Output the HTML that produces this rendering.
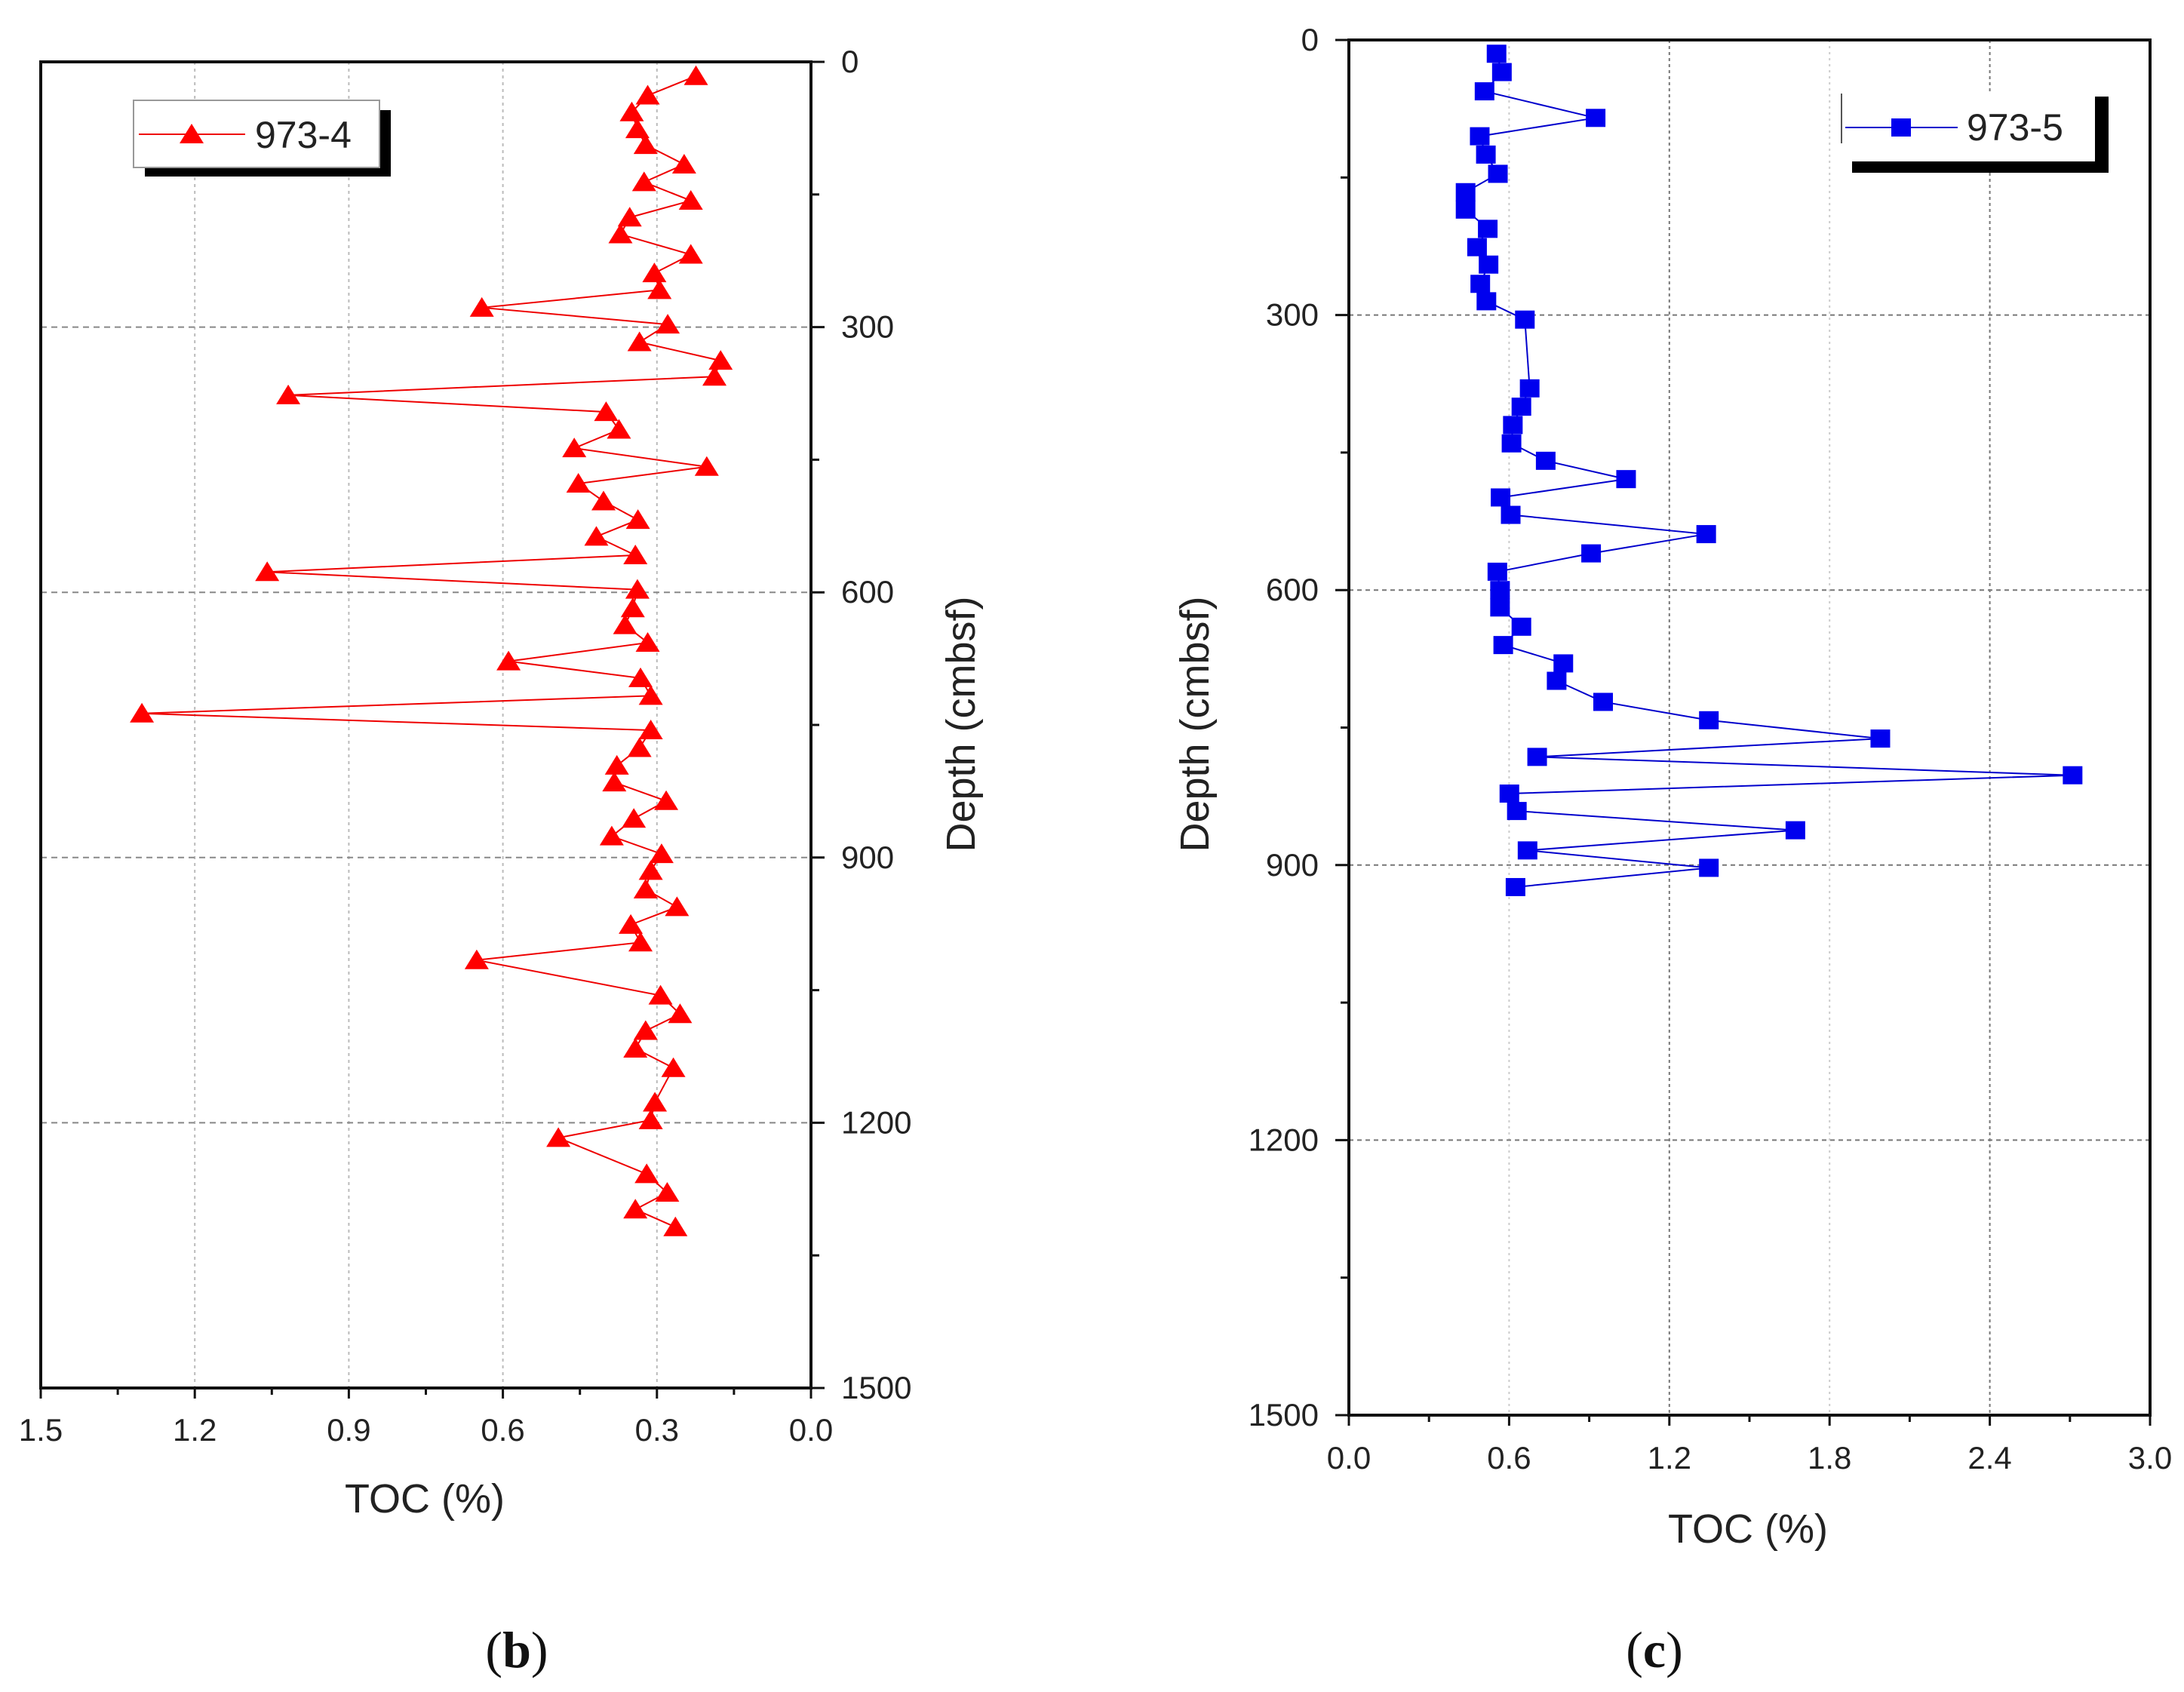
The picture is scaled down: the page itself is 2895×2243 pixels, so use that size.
<!DOCTYPE html>
<html><head><meta charset="utf-8"><style>
html,body{margin:0;padding:0;background:#fff;}
svg{display:block;}
text{font-family:"Liberation Sans",sans-serif;fill:#222;}
text.cap{font-family:"Liberation Serif",serif;fill:#111;}
</style></head><body>
<svg id="fig" width="2895" height="2243" viewBox="0 0 2895 2243" xmlns="http://www.w3.org/2000/svg"></svg>
<script>
// Panel b: 973-4
const depthB = [16,38,57,76,94,116,136,157,176,195,218,239,258,278,297,317,338,356,377,396,416,437,458,477,497,518,537,558,577,597,618,637,657,678,697,717,737,756,776,796,815,836,856,876,896,915,936,956,976,996,1016,1056,1077,1096,1116,1138,1177,1197,1217,1258,1279,1298,1318];
const tocB = [0.224,0.318,0.349,0.338,0.322,0.247,0.325,0.234,0.353,0.371,0.234,0.305,0.295,0.641,0.279,0.334,0.176,0.188,1.018,0.399,0.374,0.461,0.203,0.453,0.404,0.337,0.418,0.342,1.059,0.338,0.347,0.362,0.318,0.589,0.332,0.312,1.303,0.312,0.334,0.378,0.383,0.282,0.345,0.388,0.291,0.312,0.322,0.261,0.351,0.332,0.651,0.293,0.255,0.322,0.342,0.268,0.304,0.312,0.492,0.320,0.280,0.342,0.264];
// Panel c: 973-5
const depthC = [15,35,56,85,105,125,146,166,185,206,226,245,266,285,305,380,400,420,440,459,479,499,518,539,560,580,600,619,640,660,680,699,722,742,762,782,802,822,841,862,884,903,924];
const tocC = [0.553,0.573,0.508,0.924,0.490,0.513,0.558,0.437,0.437,0.520,0.480,0.523,0.492,0.515,0.659,0.677,0.646,0.614,0.609,0.737,1.038,0.568,0.606,1.338,0.907,0.556,0.566,0.566,0.646,0.578,0.803,0.778,0.952,1.348,1.990,0.705,2.710,0.601,0.629,1.672,0.669,1.348,0.624];
const depthTicks = [0,300,600,900,1200,1500];
const tocTicksB = [1.5,1.2,0.9,0.6,0.3,0.0];
const tocTicksC = [0.0,0.6,1.2,1.8,2.4,3.0];

const NS="http://www.w3.org/2000/svg";
const svg=document.getElementById('fig');
function mk(tag,attrs,parent,txt){const e=document.createElementNS(NS,tag);for(const k in attrs)e.setAttribute(k,attrs[k]);if(txt!==undefined)e.textContent=txt;(parent||svg).appendChild(e);return e;}

// ---------- Panel b ----------
const B={l:54,r:1075,t:82,b:1840};
const bx=v=>B.r-(v/1.5)*(B.r-B.l);
const by=d=>B.t+(d/1500)*(B.b-B.t);
const gB=mk('g',{});


[1.2,0.9,0.6,0.3].forEach(v=>{const l=mk('line',{x1:bx(v),x2:bx(v),y1:B.t,y2:B.b,stroke:'#bbb','stroke-width':2,'stroke-dasharray':'4,5'},gB);});
[300,600,900,1200].forEach(d=>{const l=mk('line',{x1:B.l,x2:B.r,y1:by(d),y2:by(d),stroke:'#888','stroke-width':2,'stroke-dasharray':'8,6'},gB);});
mk('rect',{x:B.l,y:B.t,width:B.r-B.l,height:B.b-B.t,fill:'none',stroke:'#111','stroke-width':4},gB);
for(let d=0;d<=1500;d+=150){const maj=d%300===0;mk('line',{x1:B.r,x2:B.r+(maj?18:11),y1:by(d),y2:by(d),stroke:'#111','stroke-width':3},gB);}
for(let i=0;i<=10;i++){const v=i*0.15;const maj=i%2===0;mk('line',{x1:bx(v),x2:bx(v),y1:B.b,y2:B.b+(maj?14:9),stroke:'#111','stroke-width':3},gB);}
depthTicks.forEach(d=>{const t=mk('text',{x:B.r+40,y:by(d)+14,'font-size':42},gB,String(d));});
tocTicksB.forEach(v=>{const t=mk('text',{x:bx(v),y:1910,'font-size':42,'text-anchor':'middle'},gB,v.toFixed(1));});
const tbx=mk('text',{x:563,y:2005,'font-size':54,'text-anchor':'middle'},gB,'TOC (%)');

const tby=mk('text',{x:0,y:0,'font-size':54,'text-anchor':'middle',transform:'translate(1292,960) rotate(-90)'},gB,'Depth (cmbsf)');

const ptsB=tocB.map((v,i)=>bx(v)+','+by(depthB[i])).join(' ');
const plB=mk('polyline',{points:ptsB,fill:'none',stroke:'#e00','stroke-width':2},gB);

tocB.forEach((v,i)=>{const x=bx(v),y=by(depthB[i]);const p=mk('polygon',{points:`${x},${y-14} ${x-16},${y+12} ${x+16},${y+12}`,fill:'#f00'},gB);});
const lgB=mk('g',{},gB);
mk('rect',{x:192,y:146,width:326,height:88,fill:'#000'},lgB);
mk('rect',{x:177,y:133,width:326,height:89,fill:'#fff',stroke:'#999','stroke-width':2},lgB);
mk('line',{x1:184,x2:325,y1:178,y2:178,stroke:'#e00','stroke-width':2},lgB);
mk('polygon',{points:'254,164 238,190 270,190',fill:'#f00'},lgB);
mk('text',{x:338,y:196,'font-size':50},lgB,'973-4');
const capB=mk('text',{x:685,y:2210,'font-size':68,'text-anchor':'middle','class':'cap'},gB);
capB.innerHTML='(<tspan font-weight="bold">b</tspan>)';


// ---------- Panel c ----------
const C={l:1788,r:2850,t:53,b:1876};
const cx=v=>C.l+(v/3)*(C.r-C.l);
const cy=d=>C.t+(d/1500)*(C.b-C.t);
const gC=mk('g',{});


[0.6,1.2,1.8,2.4].forEach((v,i)=>{const dark=(i%2===1);const l=mk('line',{x1:cx(v),x2:cx(v),y1:C.t,y2:C.b,stroke:dark?'#777':'#ccc','stroke-width':2,'stroke-dasharray':dark?'4,4':'3,5'},gC);});
[300,600,900,1200].forEach(d=>{const l=mk('line',{x1:C.l,x2:C.r,y1:cy(d),y2:cy(d),stroke:'#777','stroke-width':2,'stroke-dasharray':'6,5'},gC);});
mk('rect',{x:C.l,y:C.t,width:C.r-C.l,height:C.b-C.t,fill:'none',stroke:'#111','stroke-width':4},gC);
for(let d=0;d<=1500;d+=150){const maj=d%300===0;mk('line',{x1:C.l,x2:C.l-(maj?18:11),y1:cy(d),y2:cy(d),stroke:'#111','stroke-width':3},gC);}
for(let i=0;i<=10;i++){const v=i*0.3;const maj=i%2===0;mk('line',{x1:cx(v),x2:cx(v),y1:C.b,y2:C.b+(maj?14:9),stroke:'#111','stroke-width':3},gC);}
depthTicks.forEach(d=>{const t=mk('text',{x:C.l-40,y:cy(d)+14,'font-size':42,'text-anchor':'end'},gC,String(d));});
tocTicksC.forEach(v=>{const t=mk('text',{x:cx(v),y:1947,'font-size':42,'text-anchor':'middle'},gC,v.toFixed(1));});
const tcx=mk('text',{x:2317,y:2045,'font-size':54,'text-anchor':'middle'},gC,'TOC (%)');

const tcy=mk('text',{x:0,y:0,'font-size':54,'text-anchor':'middle',transform:'translate(1602,960) rotate(-90)'},gC,'Depth (cmbsf)');

const ptsC=tocC.map((v,i)=>cx(v)+','+cy(depthC[i])).join(' ');
const plC=mk('polyline',{points:ptsC,fill:'none',stroke:'#00c','stroke-width':2},gC);

tocC.forEach((v,i)=>{const x=cx(v),y=cy(depthC[i]);const r=mk('rect',{x:x-13,y:y-12,width:26,height:24,fill:'#0000ee'},gC);});
const lgC=mk('g',{},gC);
mk('rect',{x:2455,y:128,width:340,height:101,fill:'#000'},lgC);
mk('rect',{x:2439,y:124,width:338,height:90,fill:'#fff'},lgC);
mk('line',{x1:2441,x2:2441,y1:124,y2:190,stroke:'#555','stroke-width':2},lgC);
mk('line',{x1:2446,x2:2595,y1:169,y2:169,stroke:'#00c','stroke-width':2},lgC);
mk('rect',{x:2507,y:157,width:26,height:24,fill:'#0000ee'},lgC);
mk('text',{x:2607,y:186,'font-size':50},lgC,'973-5');
const capC=mk('text',{x:2193,y:2210,'font-size':68,'text-anchor':'middle','class':'cap'},gC);
capC.innerHTML='(<tspan font-weight="bold">c</tspan>)';

</script>
</body></html>
